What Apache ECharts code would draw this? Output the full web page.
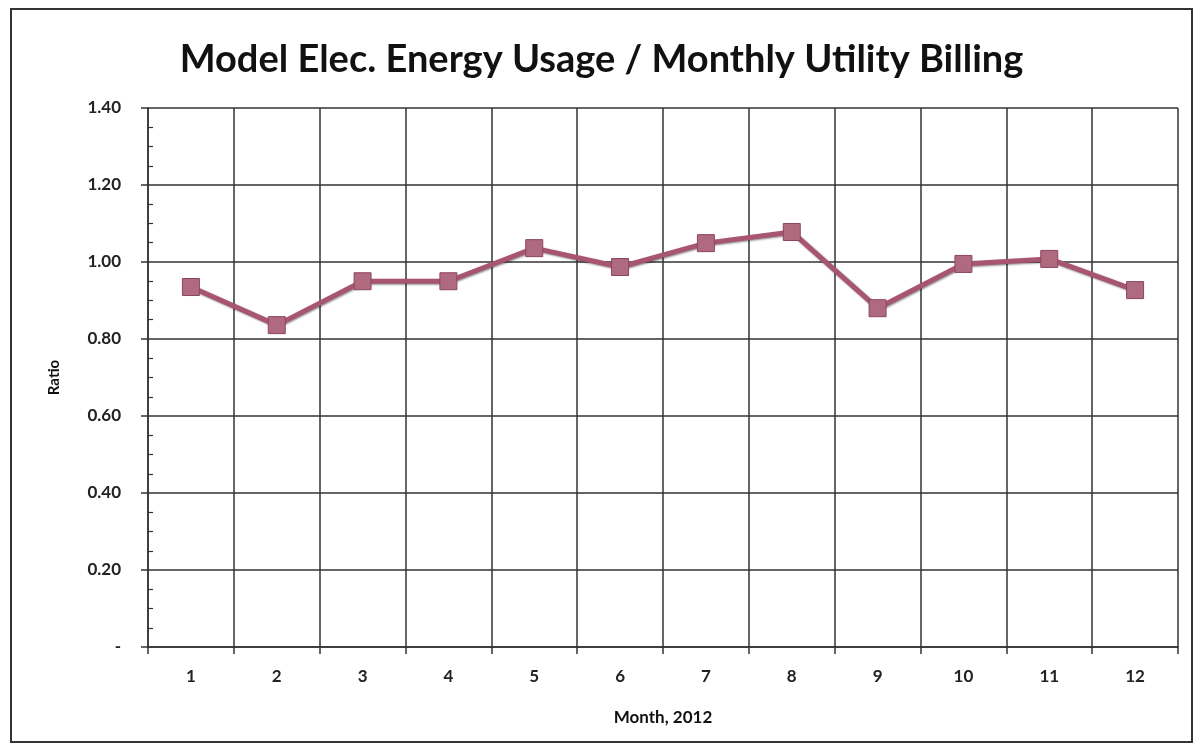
<!DOCTYPE html>
<html>
  <head>
    <meta charset="utf-8">
    <title>Model Elec. Energy Usage / Monthly Utility Billing</title>
    <script src="https://cdn.jsdelivr.net/npm/echarts@6/dist/echarts.min.js"></script>
    <style>
      html, body { margin: 0; padding: 0; background: #fff; }
      #frame {
        position: absolute; left: 10px; top: 8px;
        width: 1183px; height: 735px;
        border: 2px solid #333; box-sizing: border-box;
      }
      #main { width: 1203px; height: 751px; }
    </style>
  </head>
  <body>
    <div id="frame"></div>
    <div id="main"></div>
    <script>
      // months and ratio values
      var months = ['1', '2', '3', '4', '5', '6', '7', '8', '9', '10', '11', '12'];
      var ratio = [0.935, 0.836, 0.95, 0.95, 1.036, 0.987, 1.049, 1.078, 0.88, 0.995, 1.008, 0.927];

      var myChart = echarts.init(document.getElementById('main'));
      var option = {
        animation: false,
        title: {
          text: 'Model Elec. Energy Usage / Monthly Utility Billing',
          left: 'center',
          top: 36,
          textStyle: { fontFamily: 'Lato', fontWeight: 'bold', fontSize: 38, color: '#111' }
        },
        grid: { left: 148, right: 25, top: 108, bottom: 104 },
        xAxis: {
          type: 'category',
          data: months,
          boundaryGap: true,
          name: 'Month, 2012',
          nameLocation: 'middle',
          nameGap: 62,
          nameTextStyle: { fontFamily: 'Lato', fontWeight: 'bold', fontSize: 17, color: '#111' },
          axisLine: { lineStyle: { color: '#333', width: 1.5 } },
          axisTick: { show: true, length: 7, lineStyle: { color: '#333', width: 1.5 } },
          axisLabel: { fontFamily: 'Lato', fontWeight: 'bold', fontSize: 17, color: '#222', margin: 21 },
          splitLine: { show: true, lineStyle: { color: '#333', width: 1.5 } }
        },
        yAxis: {
          type: 'value',
          min: 0,
          max: 1.4,
          interval: 0.2,
          name: 'Ratio',
          nameLocation: 'middle',
          nameGap: 86,
          nameTextStyle: { fontFamily: 'Lato', fontWeight: 'bold', fontSize: 15, color: '#111' },
          axisLine: { show: true, lineStyle: { color: '#333', width: 1.5 } },
          axisTick: { show: true, length: 7, lineStyle: { color: '#333', width: 1.5 } },
          minorTick: { show: true, splitNumber: 4, length: -5, lineStyle: { color: '#333', width: 1.2 } },
          axisLabel: {
            fontFamily: 'Lato', fontWeight: 'bold', fontSize: 17, color: '#222', margin: 27,
            formatter: function (v) { return v === 0 ? '-' : v.toFixed(2); }
          },
          splitLine: { show: true, lineStyle: { color: '#333', width: 1.5 } }
        },
        series: [{
          type: 'line',
          data: ratio,
          symbol: 'rect',
          symbolSize: 17,
          lineStyle: { color: '#a8566f', width: 5, shadowColor: 'rgba(0,0,0,0.45)', shadowBlur: 2, shadowOffsetX: 1, shadowOffsetY: 1 },
          itemStyle: { color: '#b06a80', borderColor: '#8c4560', borderWidth: 1 }
        }]
      };
      myChart.setOption(option);
    </script>
  </body>
</html>
